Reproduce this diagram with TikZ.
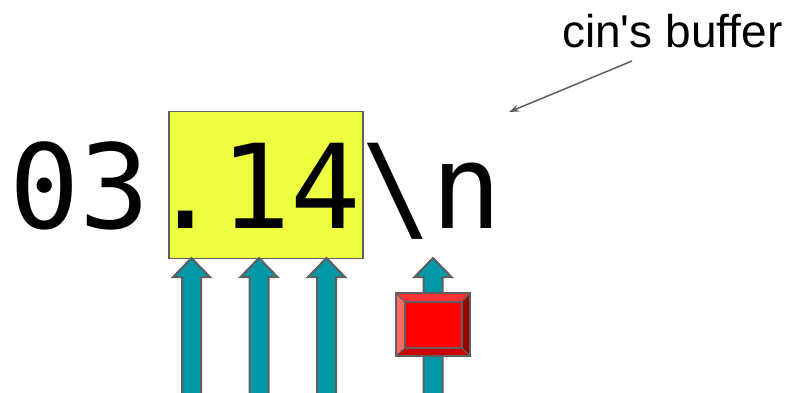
\documentclass[tikz,border=0pt]{standalone}
\usepackage{fontspec}
\setmainfont{Liberation Sans}
\newfontfamily\codefont{DejaVu Sans Mono}
\usetikzlibrary{arrows.meta}
\definecolor{boxyellow}{RGB}{238,255,65}
\definecolor{teal2}{RGB}{0,151,167}
\definecolor{edgegray}{RGB}{95,95,95}
\definecolor{redtop}{RGB}{255,51,51}
\definecolor{redleft}{RGB}{255,102,102}
\definecolor{redright}{RGB}{153,0,0}
\definecolor{redbottom}{RGB}{204,0,0}
\tikzset{
  codetext/.style={inner sep=0pt, font=\codefont\fontsize{117}{130}\selectfont},
  labeltext/.style={inner sep=0pt, font=\fontsize{46}{55}\selectfont},
  bevel/.style={draw=edgegray, line width=1.2pt, line join=miter},
  pics/uparrow/.style={code={
    \fill[teal2, draw=edgegray, line width=2pt, line join=miter]
      (0,0) -- (18.5,19) -- (9.5,19) -- (9.5,150) -- (-9.5,150) -- (-9.5,19) -- (-18.5,19) -- cycle;
  }}
}
\begin{document}
\begin{tikzpicture}[x=1pt,y=-1pt]
\useasboundingbox (0,0) rectangle (797,392);
% yellow highlight box
\node[draw=edgegray, fill=boxyellow, line width=1.5pt, minimum width=194pt, minimum height=147pt, inner sep=0pt, anchor=north west] (hl) at (168,110.5) {};
% text
\node[codetext, anchor=base west] (code) at (9,228) {03.14\textbackslash n};
% arrows
\pic at (191.5,258) {uparrow};
\pic at (259,258) {uparrow};
\pic at (326.5,258) {uparrow};
\pic at (433,258) {uparrow};
% red bevel box
\fill[redtop] (396,293) -- (470,293) -- (462,302) -- (405,302) -- cycle;
\fill[redleft] (396,293) -- (405,302) -- (405,348) -- (396,356) -- cycle;
\fill[redright] (470,293) -- (470,356) -- (462,348) -- (462,302) -- cycle;
\fill[redbottom] (396,356) -- (405,348) -- (462,348) -- (470,356) -- cycle;
\fill[red] (405,302) rectangle (462,348);
\draw[bevel] (396,293) rectangle (470,356);
\draw[bevel] (405,302) rectangle (462,348);
\draw[bevel] (396,293) -- (405,302) (470,293) -- (462,302) (396,356) -- (405,348) (470,356) -- (462,348);
% label
\node[labeltext, anchor=base west] (lbl) at (562,47) {cin\textquotesingle s buffer};
\coordinate (from) at (632,61);
\coordinate (to) at (509,112);
\draw[edgegray, line width=1.5pt, -{Stealth[length=10pt,width=7pt]}] (from) -- (to);
\end{tikzpicture}
\end{document}
